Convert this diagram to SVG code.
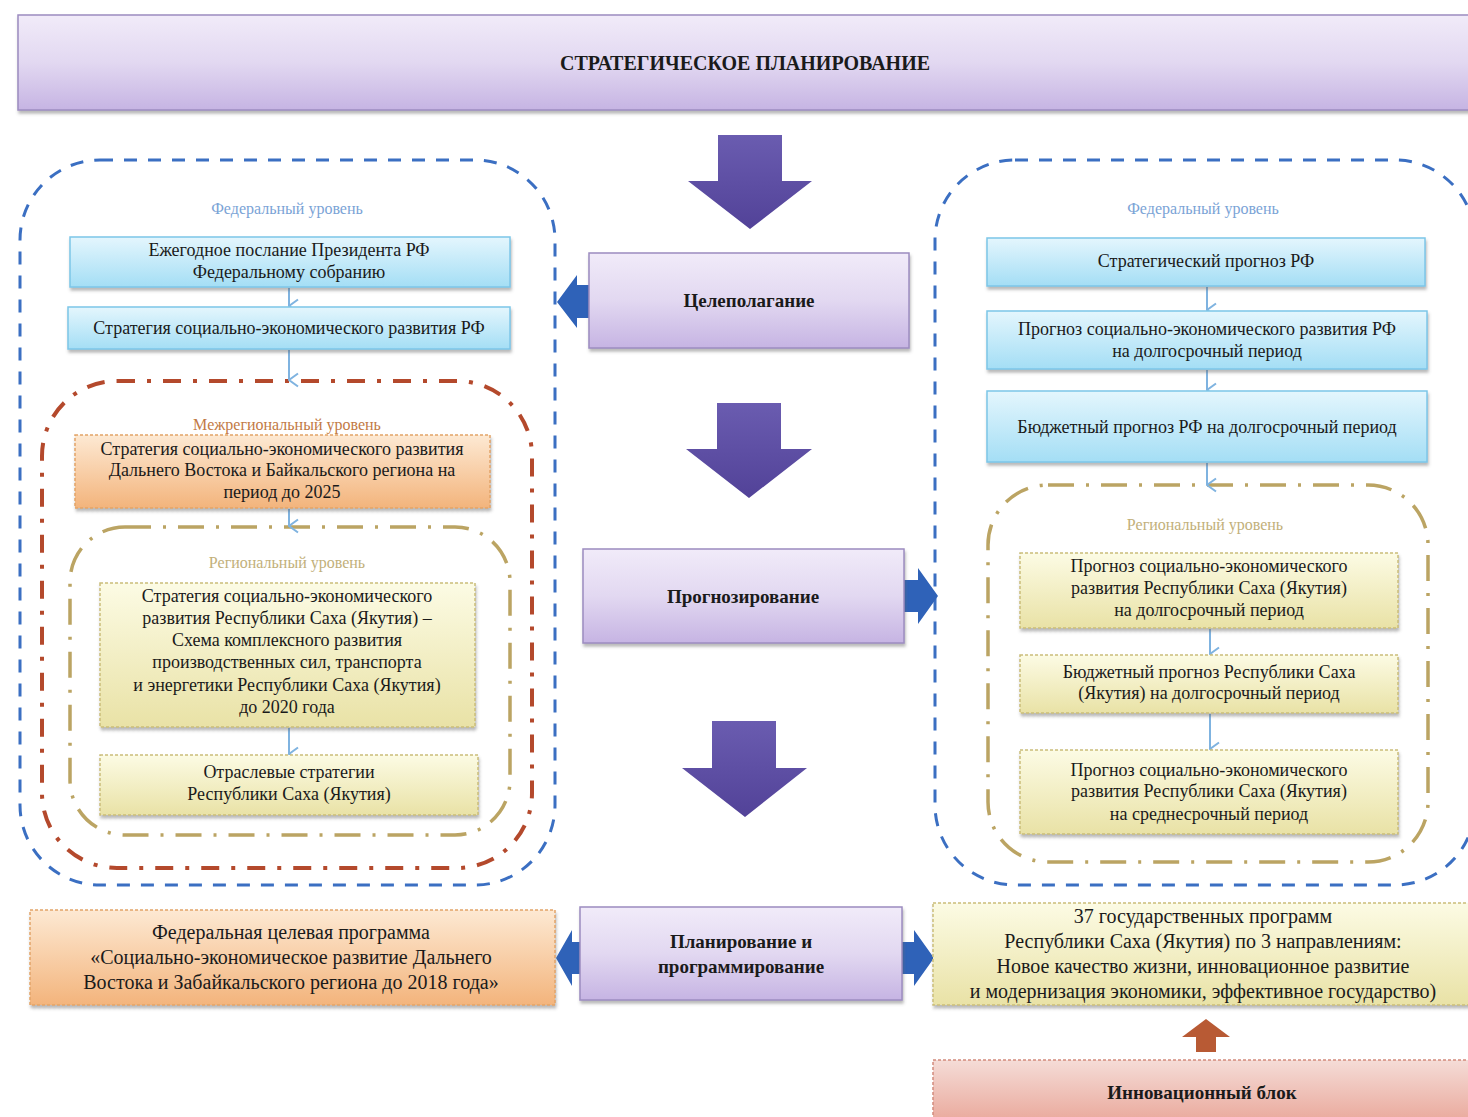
<svg xmlns="http://www.w3.org/2000/svg" width="1468" height="1117" viewBox="0 0 1468 1117">
<style>
text{font-family:"Liberation Serif","Times New Roman",serif;fill:#1a1a1a;text-anchor:middle;}
.t{font-size:18px;}
.tb{font-size:20px;}
.h{font-size:19px;font-weight:bold;}
.lvl{font-size:16px;}
.lb{fill:#7aa3d6;}
.lo{fill:#c27a45;}
.lk{fill:#c2b07a;}
.blue{fill:url(#gBlue);stroke:#7cc6e8;stroke-width:1.5;filter:url(#sh);}
.yel{fill:url(#gYel);stroke:#cabd7a;stroke-width:1.5;stroke-dasharray:3 2;filter:url(#sh);}
.org{fill:url(#gOrg);stroke:#e2a468;stroke-width:1.5;stroke-dasharray:3 2;filter:url(#sh);}
.lav{fill:url(#gLav);stroke:#9c8cc0;stroke-width:1.5;filter:url(#sh);}
.pink{fill:url(#gPink);stroke:#d28a7c;stroke-width:1.5;stroke-dasharray:3 2;}
.bdash{fill:none;stroke:#3b6fc2;stroke-width:3;stroke-dasharray:13 11;}
.rdash{fill:none;stroke:#b4492c;stroke-width:4;stroke-dasharray:18 12 4 12;}
.kdash{fill:none;stroke:#bba463;stroke-width:3.5;stroke-dasharray:26 12 3 12;}
.thin{fill:none;stroke:#7fb3e0;stroke-width:2;marker-end:url(#vh);}
.big{fill:url(#gArr);}
.barr{fill:#2f62b8;}
</style>
<defs>
<linearGradient id="gBlue" x1="0" y1="0" x2="0" y2="1"><stop offset="0" stop-color="#e4f6fd"/><stop offset="1" stop-color="#a4def5"/></linearGradient>
<linearGradient id="gYel" x1="0" y1="0" x2="0" y2="1"><stop offset="0" stop-color="#fcfbe4"/><stop offset="1" stop-color="#e9e2a6"/></linearGradient>
<linearGradient id="gOrg" x1="0" y1="0" x2="0" y2="1"><stop offset="0" stop-color="#fde9d3"/><stop offset="1" stop-color="#f3b47c"/></linearGradient>
<linearGradient id="gLav" x1="0" y1="0" x2="0" y2="1"><stop offset="0" stop-color="#f1ebf9"/><stop offset="0.5" stop-color="#e2d8f1"/><stop offset="1" stop-color="#c6b4e3"/></linearGradient>
<linearGradient id="gPink" x1="0" y1="0" x2="0" y2="1"><stop offset="0" stop-color="#f5dcd7"/><stop offset="1" stop-color="#e8a294"/></linearGradient>
<linearGradient id="gArr" x1="0" y1="0" x2="0" y2="1"><stop offset="0" stop-color="#6a5cb0"/><stop offset="1" stop-color="#524298"/></linearGradient>
<filter id="sh" x="-5%" y="-10%" width="110%" height="130%"><feDropShadow dx="1" dy="3" stdDeviation="1.5" flood-color="#666" flood-opacity="0.45"/></filter>
<marker id="vh" viewBox="0 0 16 12" refX="8" refY="11" markerWidth="16" markerHeight="12" markerUnits="userSpaceOnUse" orient="auto-start-reverse">
<path d="M1.5,2 L8,11 L14.5,2" fill="none" stroke="#7fb3e0" stroke-width="2"/>
</marker>
</defs>
<rect width="1468" height="1117" fill="#ffffff"/>

<g id="frames">
<rect x="20" y="160" width="535" height="725" rx="80" class="bdash"/>
<rect x="42" y="381" width="490" height="487" rx="75" class="rdash"/>
<rect x="70" y="527" width="440" height="308" rx="55" class="kdash"/>
<rect x="935" y="160" width="540" height="725" rx="80" class="bdash"/>
<rect x="988" y="485" width="440" height="377" rx="60" class="kdash"/>
</g>

<g id="banner">
<rect x="18" y="15" width="1460" height="95" class="lav"/>
<text x="745" y="70" class="tb" font-weight="bold">СТРАТЕГИЧЕСКОЕ ПЛАНИРОВАНИЕ</text>
</g>

<g id="labels">
<text x="287" y="214" class="lvl lb">Федеральный уровень</text>
<text x="287" y="430" class="lvl lo">Межрегиональный уровень</text>
<text x="287" y="568" class="lvl lk">Региональный уровень</text>
<text x="1203" y="214" class="lvl lb">Федеральный уровень</text>
<text x="1205" y="530" class="lvl lk">Региональный уровень</text>
</g>

<g id="connectors">
<line x1="289" y1="288" x2="289" y2="306" class="thin"/>
<line x1="289" y1="350" x2="289" y2="380" class="thin"/>
<line x1="289" y1="509" x2="289" y2="526" class="thin"/>
<line x1="289" y1="728" x2="289" y2="754" class="thin"/>
<line x1="1207" y1="287" x2="1207" y2="310" class="thin"/>
<line x1="1207" y1="370" x2="1207" y2="390" class="thin"/>
<line x1="1207" y1="463" x2="1207" y2="485" class="thin"/>
<line x1="1210" y1="629" x2="1210" y2="654" class="thin"/>
<line x1="1210" y1="714" x2="1210" y2="749" class="thin"/>
<polygon class="big" points="718,135 782,135 782,181 812,181 750,229 688,181 718,181"/>
<polygon class="big" points="717,403 781,403 781,449 812,449 749,498 686,449 717,449"/>
<polygon class="big" points="712,721 776,721 776,768 807,768 745,817 682,768 712,768"/>
<polygon class="barr" points="589,285 577,285 577,275 557,302 577,328 577,318 589,318"/>
<polygon class="barr" points="904,580 918,580 918,568 938,596 918,624 918,612 904,612"/>
<polygon class="barr" points="580,942 572,942 572,930 556,958 572,986 572,974 580,974"/>
<polygon class="barr" points="902,942 914,942 914,930 934,958 914,986 914,974 902,974"/>
<polygon fill="#b85a34" points="1196,1052 1196,1037 1182,1037 1206,1019 1230,1037 1216,1037 1216,1052"/>
</g>

<g id="n-tsel">
<rect x="589" y="253" width="320" height="95" class="lav"/>
<text x="749" y="307" class="h">Целеполагание</text>
</g>
<g id="n-prog">
<rect x="583" y="549" width="321" height="94" class="lav"/>
<text x="743" y="603" class="h">Прогнозирование</text>
</g>
<g id="n-plan">
<rect x="580" y="907" width="322" height="93" class="lav"/>
<text x="741" y="948" class="h">Планирование и</text>
<text x="741" y="973" class="h">программирование</text>
</g>

<g id="n-poslanie">
<rect x="70" y="237" width="440" height="50" class="blue"/>
<text x="289" y="256" class="t">Ежегодное послание Президента РФ</text>
<text x="289" y="278" class="t">Федеральному собранию</text>
</g>
<g id="n-strat-rf">
<rect x="68" y="307" width="442" height="42" class="blue"/>
<text x="289" y="334" class="t">Стратегия социально-экономического развития РФ</text>
</g>
<g id="n-strat-dv">
<rect x="75" y="435" width="415" height="73" class="org"/>
<text x="282" y="455" class="t">Стратегия социально-экономического развития</text>
<text x="282" y="476" class="t">Дальнего Востока и Байкальского региона на</text>
<text x="282" y="498" class="t">период до 2025</text>
</g>
<g id="n-strat-ya">
<rect x="100" y="583" width="375" height="144" class="yel"/>
<text x="287" y="602" class="t">Стратегия социально-экономического</text>
<text x="287" y="624" class="t">развития Республики Саха (Якутия) –</text>
<text x="287" y="646" class="t">Схема комплексного развития</text>
<text x="287" y="668" class="t">производственных сил, транспорта</text>
<text x="287" y="691" class="t">и энергетики Республики Саха (Якутия)</text>
<text x="287" y="713" class="t">до 2020 года</text>
</g>
<g id="n-otrasl">
<rect x="100" y="755" width="378" height="60" class="yel"/>
<text x="289" y="778" class="t">Отраслевые стратегии</text>
<text x="289" y="800" class="t">Республики Саха (Якутия)</text>
</g>

<g id="n-sp-rf">
<rect x="987" y="238" width="438" height="48" class="blue"/>
<text x="1206" y="267" class="t">Стратегический прогноз РФ</text>
</g>
<g id="n-pr-rf">
<rect x="987" y="311" width="440" height="58" class="blue"/>
<text x="1207" y="335" class="t">Прогноз социально-экономического развития РФ</text>
<text x="1207" y="357" class="t">на долгосрочный период</text>
</g>
<g id="n-bp-rf">
<rect x="987" y="391" width="440" height="71" class="blue"/>
<text x="1207" y="433" class="t">Бюджетный прогноз РФ  на долгосрочный период</text>
</g>
<g id="n-pr-ya-long">
<rect x="1020" y="553" width="378" height="75" class="yel"/>
<text x="1209" y="572" class="t">Прогноз социально-экономического</text>
<text x="1209" y="594" class="t">развития Республики Саха (Якутия)</text>
<text x="1209" y="616" class="t">на долгосрочный период</text>
</g>
<g id="n-bp-ya">
<rect x="1020" y="655" width="378" height="58" class="yel"/>
<text x="1209" y="678" class="t">Бюджетный прогноз Республики Саха</text>
<text x="1209" y="699" class="t">(Якутия) на долгосрочный период</text>
</g>
<g id="n-pr-ya-mid">
<rect x="1020" y="750" width="378" height="84" class="yel"/>
<text x="1209" y="776" class="t">Прогноз социально-экономического</text>
<text x="1209" y="797" class="t">развития Республики Саха (Якутия)</text>
<text x="1209" y="820" class="t">на среднесрочный период</text>
</g>

<g id="n-fcp">
<rect x="30" y="910" width="525" height="95" class="org"/>
<text x="291" y="939" class="tb">Федеральная целевая программа</text>
<text x="291" y="964" class="tb">«Социально-экономическое развитие Дальнего</text>
<text x="291" y="989" class="tb">Востока и Забайкальского региона до 2018 года»</text>
</g>
<g id="n-37">
<rect x="933" y="903" width="545" height="102" class="yel"/>
<text x="1203" y="923" class="tb">37 государственных программ</text>
<text x="1203" y="948" class="tb">Республики Саха (Якутия) по 3 направлениям:</text>
<text x="1203" y="973" class="tb">Новое качество жизни, инновационное развитие</text>
<text x="1203" y="998" class="tb">и модернизация экономики, эффективное государство)</text>
</g>
<g id="n-innov">
<rect x="933" y="1060" width="545" height="70" class="pink"/>
<text x="1202" y="1099" class="h">Инновационный блок</text>
</g>
</svg>
